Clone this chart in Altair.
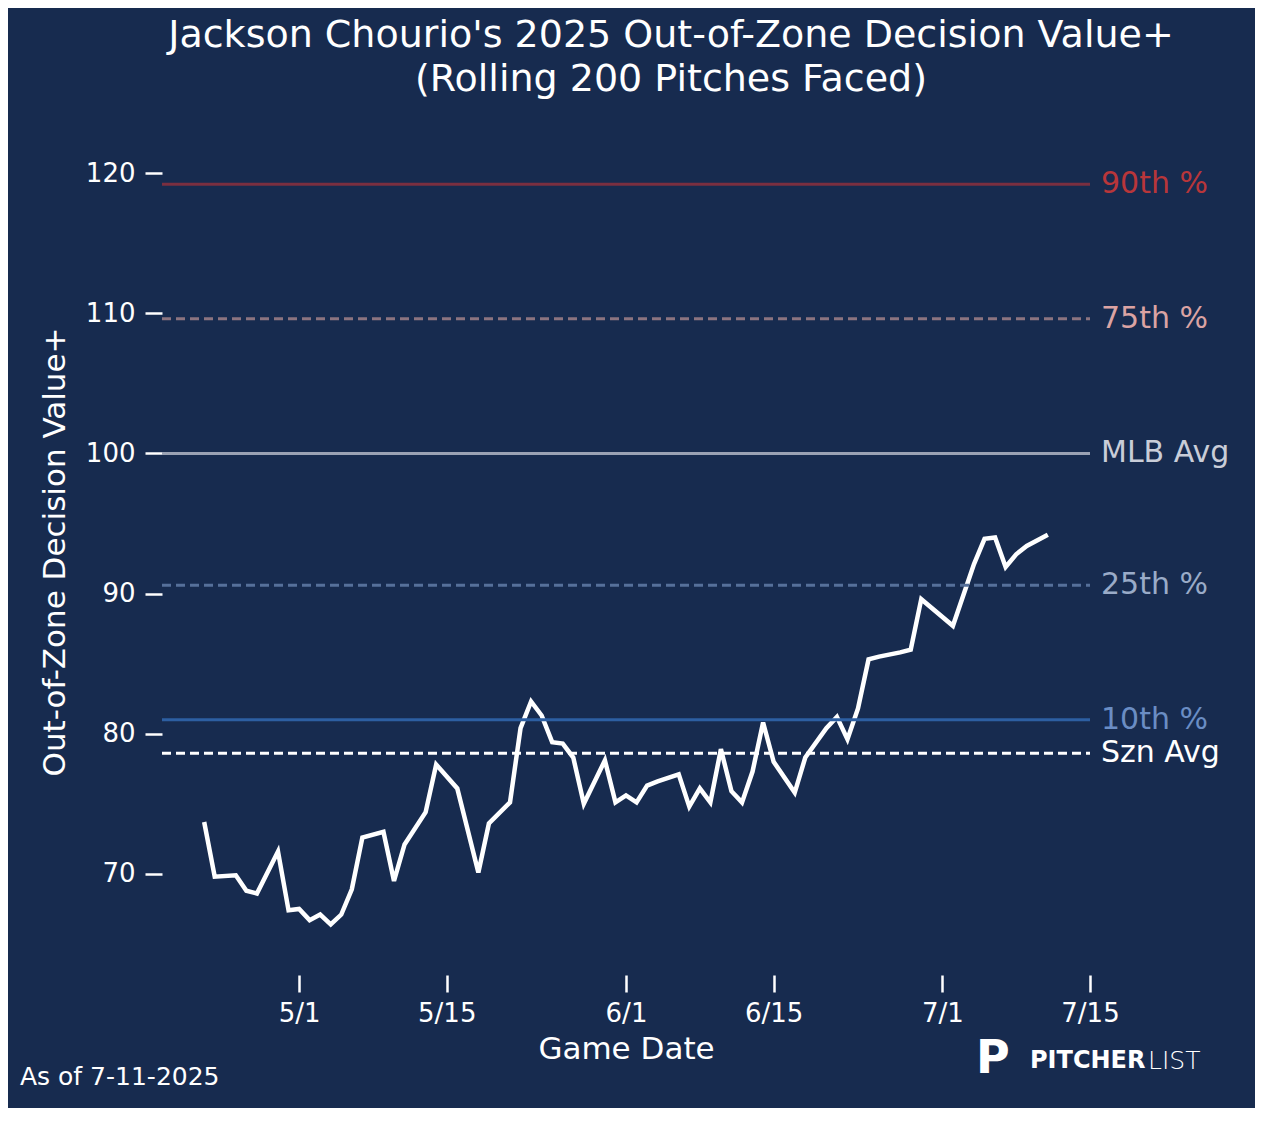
import pandas as pd
import altair as alt

# rolling values
dates = ["2025-04-22", "2025-04-23", "2025-04-25", "2025-04-26", "2025-04-27", "2025-04-29",
         "2025-04-30", "2025-05-01", "2025-05-02", "2025-05-03", "2025-05-04", "2025-05-05",
         "2025-05-06", "2025-05-07", "2025-05-09", "2025-05-10", "2025-05-11", "2025-05-13",
         "2025-05-14", "2025-05-16", "2025-05-18", "2025-05-19", "2025-05-21", "2025-05-22",
         "2025-05-23", "2025-05-24", "2025-05-25", "2025-05-26", "2025-05-27", "2025-05-28",
         "2025-05-30", "2025-05-31", "2025-06-01", "2025-06-02", "2025-06-03", "2025-06-04",
         "2025-06-06", "2025-06-07", "2025-06-08", "2025-06-09", "2025-06-10", "2025-06-11",
         "2025-06-12", "2025-06-13", "2025-06-14", "2025-06-15", "2025-06-17", "2025-06-18",
         "2025-06-20", "2025-06-21", "2025-06-22", "2025-06-23", "2025-06-24", "2025-06-25",
         "2025-06-27", "2025-06-28", "2025-06-29", "2025-07-02", "2025-07-04", "2025-07-05",
         "2025-07-06", "2025-07-07", "2025-07-08", "2025-07-09", "2025-07-11"]
values = [73.7, 69.8, 69.9, 68.8, 68.6, 71.6, 67.4, 67.5, 66.7, 67.1, 66.4, 67.1,
          68.9, 72.6, 73.0, 69.5, 72.1, 74.4, 77.8, 76.1, 70.1, 73.6, 75.1, 80.4,
          82.3, 81.3, 79.4, 79.3, 78.3, 75.0, 78.1, 75.1, 75.6, 75.1, 76.3, 76.6,
          77.1, 74.8, 76.1, 75.1, 78.9, 75.9, 75.1, 77.3, 80.8, 78.0, 75.8, 78.3,
          80.4, 81.2, 79.6, 81.8, 85.3, 85.5, 85.8, 86.0, 89.6, 87.7, 92.1, 93.9,
          94.0, 91.9, 92.8, 93.4, 94.2]

ref_names = ["90th %", "75th %", "MLB Avg", "25th %", "10th %", "Szn Avg"]
ref_values = [119.2, 109.6, 100.0, 90.6, 81.0, 78.6]

line_colors = ["#7a2f40", "#8c7480", "#9aa2b4", "#56709a", "#2d5fa2", "#ffffff"]
label_colors = ["#b8363a", "#dba3a3", "#c9cdd8", "#9aabc8", "#6a8dc4", "#ffffff"]
dashes = [[1, 0], [9, 5], [1, 0], [9, 5], [1, 0], [9, 5]]

BG = "#172b4f"
FONT = "DejaVu Sans"
W, H = 928, 813

df = pd.DataFrame({"date": dates, "value": values})
refs = pd.DataFrame({"name": ref_names, "value": ref_values})

x_scale = alt.Scale(type="utc", domain=[alt.DateTime(year=2025, month=4, date=18, utc=True),
                                        alt.DateTime(year=2025, month=7, date=15, utc=True)])
y_scale = alt.Scale(domain=[64, 122])
tick_dates = [alt.DateTime(year=2025, month=m, date=d, utc=True)
              for m, d in [(5, 1), (5, 15), (6, 1), (6, 15), (7, 1), (7, 15)]]

x_axis = alt.Axis(values=tick_dates, labelExpr="utcFormat(datum.value, '%-m/%-d')",
                  domain=False, grid=False, tickColor="white", tickSize=17,
                  tickWidth=2.5, labelPadding=8, labelFontSize=26, labelAlign="center",
                  labelColor="white", titleColor="white", titleFontSize=31,
                  titleFontWeight="normal", titlePadding=8, offset=17)
y_axis = alt.Axis(values=[70, 80, 90, 100, 110, 120], domain=False, grid=False,
                  tickColor="white", tickSize=17, tickWidth=2.5, labelPadding=10,
                  labelFontSize=26, labelColor="white", titleColor="white",
                  titleFontSize=31, titleFontWeight="normal", titlePadding=14)
y_title = "Out-of-Zone Decision Value+"

line = alt.Chart(df).mark_line(color="white", strokeWidth=4.5).encode(
    x=alt.X("date:T", scale=x_scale, title="Game Date", axis=x_axis),
    y=alt.Y("value:Q", scale=y_scale, title=y_title, axis=y_axis),
)

rules = alt.Chart(refs).mark_rule(strokeWidth=3).encode(
    y=alt.Y("value:Q", scale=y_scale, axis=y_axis, title=y_title),
    x=alt.value(0), x2=alt.value(W),
    color=alt.Color("name:N", scale=alt.Scale(domain=ref_names, range=line_colors), legend=None),
    strokeDash=alt.StrokeDash("name:N", scale=alt.Scale(domain=ref_names, range=dashes), legend=None),
)

labels = alt.Chart(refs).transform_calculate(lab="datum.name").mark_text(
    align="left", baseline="middle", fontSize=30, font=FONT, dx=11
).encode(
    y=alt.Y("value:Q", scale=y_scale, axis=y_axis, title=y_title),
    x=alt.value(W),
    text="name:N",
    color=alt.Color("lab:N", scale=alt.Scale(domain=ref_names, range=label_colors), legend=None),
)

footer = alt.Chart(pd.DataFrame({"t": ["As of 7-11-2025"]})).mark_text(
    align="left", baseline="middle", fontSize=25, font=FONT, color="white"
).encode(x=alt.value(-142), y=alt.value(932), text="t:N")

logo_p = alt.Chart(pd.DataFrame({"t": ["P"]})).mark_text(
    align="left", baseline="middle", fontSize=46, font=FONT, fontWeight="bold", color="white"
).encode(x=alt.value(814), y=alt.value(914), text="t:N")
logo_a = alt.Chart(pd.DataFrame({"t": ["PITCHER"]})).mark_text(
    align="left", baseline="middle", fontSize=24, font=FONT, fontWeight="bold", color="white"
).encode(x=alt.value(868), y=alt.value(916), text="t:N")
logo_b = alt.Chart(pd.DataFrame({"t": ["LIST"]})).mark_text(
    align="left", baseline="middle", fontSize=25, font=FONT, fontWeight=200, color="white"
).encode(x=alt.value(986), y=alt.value(916), text="t:N")

chart = alt.layer(line, rules, labels, footer, logo_p, logo_a, logo_b).resolve_scale(
    color="independent", strokeDash="independent"
).properties(
    width=W, height=H,
    background=BG,
    padding={"left": 154, "top": 137, "right": 165, "bottom": 150},
    autosize=alt.AutoSizeParams(type="none"),
    title=alt.Title(["Jackson Chourio's 2025 Out-of-Zone Decision Value+", "(Rolling 200 Pitches Faced)"],
                    fontSize=38, font=FONT, fontWeight="normal", color="white",
                    anchor="middle", dx=45, offset=46, lineHeight=44),
).configure_view(strokeWidth=0, fill=BG).configure_axis(labelFont=FONT, titleFont=FONT)

chart.save("out.html", embed_options={"renderer": "svg", "actions": False})
